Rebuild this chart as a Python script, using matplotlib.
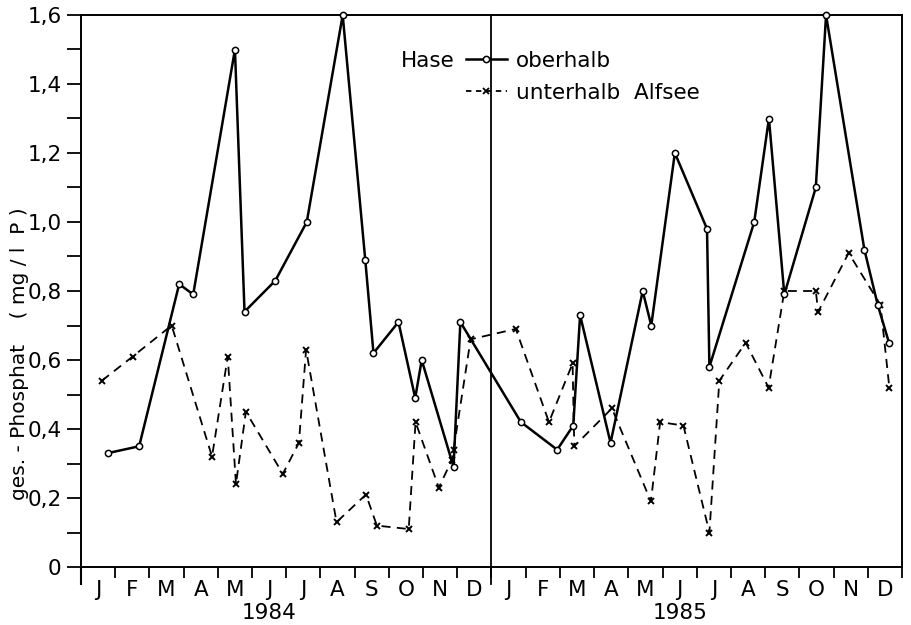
import matplotlib
matplotlib.use("Agg")
import matplotlib.pyplot as plt
from matplotlib.lines import Line2D
import numpy as np

plt.rcParams['font.family'] = ['DejaVu Sans']

# sampling positions in months since 1 Jan 1984, and total phosphate (mg/l P)
ober_x = [0.78, 1.70, 2.87, 3.28, 4.50, 4.78, 5.68, 6.60, 7.65, 8.31, 8.55, 9.28,
          9.77, 9.96, 10.89, 11.09, 12.86, 13.92, 14.39, 14.59, 15.48, 16.42, 16.67,
          17.36, 18.30, 18.37, 19.68, 20.11, 20.56, 21.48, 21.78, 22.90, 23.29, 23.62]
ober_y = [0.33, 0.35, 0.82, 0.79, 1.50, 0.74, 0.83, 1.00, 1.60, 0.89, 0.62, 0.71,
          0.49, 0.60, 0.29, 0.71, 0.42, 0.34, 0.41, 0.73, 0.36, 0.80, 0.70,
          1.20, 0.98, 0.58, 1.00, 1.30, 0.79, 1.10, 1.60, 0.92, 0.76, 0.65]

unter_x = [0.61, 1.51, 2.65, 3.83, 4.29, 4.53, 4.82, 5.90, 6.37, 6.58, 7.47, 8.33,
           8.65, 9.58, 9.78, 10.46, 10.84, 10.89, 11.39, 12.71, 13.68, 14.37, 14.42,
           15.52, 16.66, 16.93, 17.61, 18.37, 18.66, 19.43, 20.10, 20.56, 21.48,
           21.55, 22.44, 23.37, 23.63]
unter_y = [0.54, 0.61, 0.70, 0.32, 0.61, 0.24, 0.45, 0.27, 0.36, 0.63, 0.13, 0.21,
           0.12, 0.11, 0.42, 0.23, 0.31, 0.34, 0.66, 0.69, 0.42, 0.59, 0.35,
           0.46, 0.19, 0.42, 0.41, 0.10, 0.54, 0.65, 0.52, 0.80, 0.80,
           0.74, 0.91, 0.76, 0.52]

months = ['J', 'F', 'M', 'A', 'M', 'J', 'J', 'A', 'S', 'O', 'N', 'D']
years = ['1984', '1985']
yticks = [0, 0.2, 0.4, 0.6, 0.8, 1.0, 1.2, 1.4, 1.6]
ytick_labels = ['0', '0,2', '0,4', '0,6', '0,8', '1,0', '1,2', '1,4', '1,6']

fig = plt.figure(figsize=(9.11, 6.25), dpi=100)
ax = fig.add_axes([81/911, 1 - 567/625, (902-81)/911, (567-15)/625])

ax.plot(unter_x, unter_y, color='black', lw=1.3, ls=(0, (5, 3.5)), marker='x',
        ms=5, mew=1.4, zorder=3, clip_on=False)
ax.plot(ober_x, ober_y, color='black', lw=1.8, ls='-', marker='o', ms=4.5,
        mfc='white', mec='black', mew=1.1, zorder=5, clip_on=False)

ax.set_xlim(0, 24)
ax.set_ylim(0, 1.6)

# divider between years
ax.axvline(12, ymin=-0.03, ymax=1, color='black', lw=1.3, clip_on=False, zorder=2)
# left spine extension below axis
ax.axvline(0, ymin=-0.03, ymax=0, color='black', lw=1.5, clip_on=False)

for s in ax.spines.values():
    s.set_linewidth(1.4)
    s.set_zorder(1)

ax.set_yticks(yticks)
ax.set_yticklabels(ytick_labels, fontsize=15.5)
ax.set_yticks(np.arange(0.1, 1.6, 0.2), minor=True)
ax.tick_params(axis='y', which='both', direction='out', length=10, width=1.3, pad=4)

ax.set_xticks(np.arange(0, 25, 1))
ax.set_xticklabels([])
ax.tick_params(axis='x', which='major', direction='out', length=8, width=1.3)
ax.set_xticks(np.arange(0.5, 24, 1), minor=True)
ax.set_xticklabels(months * 2, minor=True, fontsize=15.5)
ax.tick_params(axis='x', which='minor', length=0, pad=9)

for i, yr in enumerate(years):
    ax.text(5.5 + 12 * i, -0.133, yr, ha='center', va='center', fontsize=15.5,
            transform=ax.transData, clip_on=False)

fig.text(20/911, 1 - 354/625, 'ges. - Phosphat    ( mg / l  P )', rotation=90,
         ha='center', va='center', fontsize=14.5)

handles = [Line2D([], [], color='black', lw=1.8, marker='o', ms=4.5, mfc='white', mew=1.1),
           Line2D([], [], color='black', lw=1.3, ls=(0, (3, 2.5)), marker='x', ms=5, mew=1.3)]
leg = ax.legend(handles, ['oberhalb', 'unterhalb  Alfsee'], loc='upper left',
                bbox_to_anchor=(466/911, 1 - 51/625), bbox_transform=fig.transFigure,
                frameon=False, fontsize=15.5, handlelength=1.9, handletextpad=0.4,
                labelspacing=0.55, borderpad=0, borderaxespad=0)
fig.text(455/911, 1 - 61/625, 'Hase', ha='right', va='center', fontsize=15.5)

fig.savefig('out.png', dpi=100)
